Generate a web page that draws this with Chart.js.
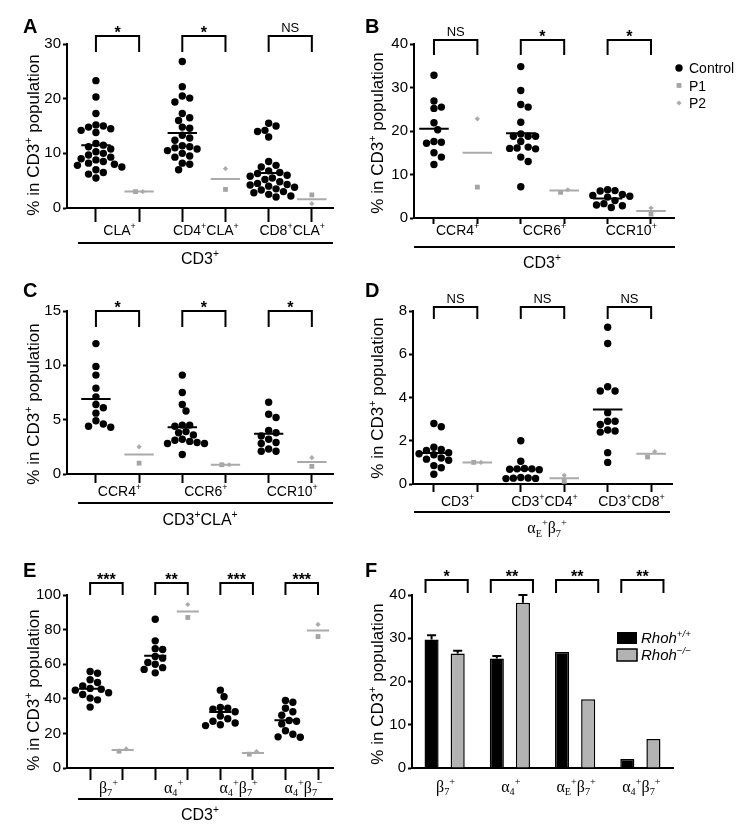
<!DOCTYPE html>
<html><head><meta charset="utf-8">
<script src="https://cdn.jsdelivr.net/npm/chart.js@4.4.1/dist/chart.umd.min.js"></script>
<style>
html,body{margin:0;padding:0;background:#fff;}
#wrap{position:relative;width:745px;height:830px;background:#fff;overflow:hidden;}
canvas{position:absolute;left:0;top:0;}
</style></head><body>
<div id="wrap">
<canvas id="cA" width="745" height="830"></canvas>
<canvas id="cB" width="745" height="830"></canvas>
<canvas id="cC" width="745" height="830"></canvas>
<canvas id="cD" width="745" height="830"></canvas>
<canvas id="cE" width="745" height="830"></canvas>
<canvas id="cF" width="745" height="830"></canvas>
</div>
<script>
// ---------------- DATA ----------------
const yTitle = '% in CD3^{+} population';
const seriesNames = ['Control', 'P1', 'P2'];

// Panel A
const A_categories = ['CLA^{+}', 'CD4^{+}CLA^{+}', 'CD8^{+}CLA^{+}'];
const A_group = 'CD3^{+}';
const A_yTicks = [0, 10, 20, 30];
const A_control_CLA = [23.3, 20.3, 17.3, 15.2, 15.0, 14.8, 14.5, 14.2, 13.8, 11.8, 11.5, 11.2, 10.8, 10.3, 10.0, 9.7, 9.3, 9.0, 8.8, 8.5, 8.2, 8.0, 7.8, 7.5, 7.0, 6.5, 6.2, 5.5];
const A_control_CD4CLA = [26.8, 22.2, 20.5, 20.1, 19.4, 17.3, 16.5, 16.0, 14.8, 14.6, 13.3, 12.8, 12.4, 11.4, 11.2, 11.0, 10.8, 10.5, 10.0, 9.5, 9.3, 8.2, 8.0, 7.0];
const A_control_CD8CLA = [15.5, 15.0, 14.2, 14.0, 13.0, 8.5, 7.8, 7.5, 6.8, 6.5, 6.3, 6.0, 5.8, 5.5, 5.2, 4.8, 4.5, 4.3, 4.2, 4.0, 3.8, 3.5, 3.3, 3.0, 2.8, 2.5, 2.2, 2.0];
const A_P1 = [3.0, 3.4, 2.4];
const A_P2 = [3.0, 7.2, 0.8];
const A_controlMean = [11.5, 13.7, 6.4];
const A_patientMean = [3.0, 5.3, 1.6];
const A_significance = ['*', '*', 'NS'];

// Panel B
const B_categories = ['CCR4^{+}', 'CCR6^{+}', 'CCR10^{+}'];
const B_group = 'CD3^{+}';
const B_yTicks = [0, 10, 20, 30, 40];
const B_control_CCR4 = [32.8, 26.9, 25.5, 25.2, 21.9, 20.3, 17.6, 17.4, 17.2, 15.0, 14.0, 12.3];
const B_control_CCR6 = [34.8, 29.3, 26.1, 25.5, 22.0, 19.3, 18.8, 18.8, 18.8, 17.6, 16.3, 16.1, 16.0, 15.9, 14.0, 13.0, 7.2];
const B_control_CCR10 = [6.5, 6.3, 6.2, 5.4, 5.2, 5.0, 4.8, 4.0, 3.3, 3.0, 2.8, 2.4];
const B_P1 = [7.1, 5.9, 0.9];
const B_P2 = [22.8, 6.5, 2.3];
const B_controlMean = [20.5, 19.5, 4.5];
const B_patientMean = [15.0, 6.3, 1.6];
const B_significance = ['NS', '*', '*'];

// Panel C
const C_categories = ['CCR4^{+}', 'CCR6^{+}', 'CCR10^{+}'];
const C_group = 'CD3^{+}CLA^{+}';
const C_yTicks = [0, 5, 10, 15];
const C_control_CCR4 = [12.0, 9.9, 9.1, 7.9, 7.1, 6.4, 6.1, 5.6, 4.9, 4.6, 4.4, 4.3];
const C_control_CCR6 = [9.1, 7.5, 6.4, 5.8, 4.5, 4.5, 4.4, 3.9, 3.8, 3.6, 3.2, 3.1, 3.0, 2.9, 2.8, 2.8, 1.8];
const C_control_CCR10 = [6.6, 5.5, 5.2, 4.0, 3.8, 3.5, 3.2, 2.9, 2.8, 2.3, 2.1, 2.1];
const C_P1 = [1.0, 0.85, 0.7];
const C_P2 = [2.5, 0.85, 1.5];
const C_controlMean = [6.9, 4.3, 3.7];
const C_patientMean = [1.8, 0.85, 1.1];
const C_significance = ['*', '*', '*'];

// Panel D
const D_categories = ['CD3^{+}', 'CD3^{+}CD4^{+}', 'CD3^{+}CD8^{+}'];
const D_group = 'α_{E}^{+}β_{7}^{+}';
const D_yTicks = [0, 2, 4, 6, 8];
const D_control_CD3 = [2.8, 2.65, 1.7, 1.6, 1.55, 1.45, 1.4, 1.35, 1.2, 1.15, 1.1, 0.85, 0.75, 0.45];
const D_control_CD4 = [2.0, 1.05, 0.72, 0.7, 0.7, 0.68, 0.66, 0.3, 0.28, 0.27, 0.26, 0.25];
const D_control_CD8 = [7.25, 6.5, 4.5, 4.3, 4.3, 3.3, 2.9, 2.9, 2.75, 2.5, 2.45, 2.4, 1.45, 1.0];
const D_P1 = [1.0, 0.12, 1.25];
const D_P2 = [1.0, 0.4, 1.5];
const D_controlMean = [1.43, 0.67, 3.45];
const D_patientMean = [1.0, 0.27, 1.4];
const D_significance = ['NS', 'NS', 'NS'];

// Panel E
const E_categories = ['β_{7}^{+}', 'α_{4}^{+}', 'α_{4}^{+}β_{7}^{+}', 'α_{4}^{+}β_{7}^{−}'];
const E_group = 'CD3^{+}';
const E_yTicks = [0, 20, 40, 60, 80, 100];
const E_control_b7 = [55.8, 54.8, 51, 49.4, 47.5, 46, 45.5, 45, 43.5, 42.5, 40.4, 39.4, 35.2];
const E_control_a4 = [86, 73.5, 69, 68.5, 64.5, 63.5, 61, 60, 58, 57, 55];
const E_control_a4b7pos = [45, 41.2, 35, 34.5, 34, 32.5, 30, 28.5, 27, 26, 25, 24.5];
const E_control_a4b7neg = [39, 38, 34.5, 32.5, 30.5, 27.5, 27, 25.5, 21.5, 19.5, 18, 17.8];
const E_P1 = [9.7, 87, 8, 76];
const E_P2 = [11, 94.5, 9.5, 83];
const E_controlMean = [45.8, 64.9, 32.3, 27.6];
const E_patientMean = [10.4, 90.5, 8.6, 79.5];
const E_significance = ['***', '**', '***', '***'];

// Panel F
const F_categories = ['β_{7}^{+}', 'α_{4}^{+}', 'α_{E}^{+}β_{7}^{+}', 'α_{4}^{+}β_{7}^{+}'];
const F_yTicks = [0, 10, 20, 30, 40];
const F_seriesNames = ['Rhoh^{+/+}', 'Rhoh^{−/−}'];
const F_wildtype = [29.7, 25.3, 26.8, 2.1];
const F_wildtypeErr = [1.0, 0.6, 0, 0];
const F_knockout = [26.5, 38.2, 15.9, 6.7];
const F_knockoutErr = [0.6, 1.8, 0, 0];
const F_significance = ['*', '**', '**', '**'];

// ---------------- RENDERING ----------------
const SANS = "'Liberation Sans', Arial, Helvetica, sans-serif";
const SERIF = "'Liberation Serif', 'Times New Roman', serif";
Chart.defaults.font.family = SANS;
Chart.defaults.color = '#000';
const GRAY_SQ = '#a4a4a4', GRAY_DI = '#ababab', GRAY_LINE = '#aaaaaa', GRAY_BAR = '#b3b3b3';
const YW = 40, XH = 20, HALF = 0.34, R = 3.7;

function richParts(s) {
  const parts = []; let i = 0, buf = '';
  while (i < s.length) {
    if ((s[i] === '^' || s[i] === '_') && s[i + 1] === '{') {
      if (buf) { parts.push({ t: buf, m: 'n' }); buf = ''; }
      const end = s.indexOf('}', i);
      parts.push({ t: s.slice(i + 2, end), m: s[i] === '^' ? 'sup' : 'sub' });
      i = end + 1;
    } else { buf += s[i]; i++; }
  }
  if (buf) parts.push({ t: buf, m: 'n' });
  return parts;
}
function drawRich(ctx, s, x, y, o) {
  o = Object.assign({ size: 14, align: 'center', weight: 'normal', style: 'normal', color: '#000', family: null }, o);
  const fam = o.family || (/[α-ω]/.test(s) ? SERIF : SANS);
  const parts = richParts(s);
  const fontFor = p => `${o.style} ${o.weight} ${p.m === 'n' ? o.size : o.size * 0.64}px ${fam}`;
  let total = 0;
  parts.forEach(p => { ctx.font = fontFor(p); p.w = ctx.measureText(p.t).width; total += p.w; });
  let cx = o.align === 'center' ? x - total / 2 : (o.align === 'right' ? x - total : x);
  ctx.save(); ctx.fillStyle = o.color; ctx.textBaseline = 'alphabetic'; ctx.textAlign = 'left';
  parts.forEach(p => {
    ctx.font = fontFor(p);
    const dy = p.m === 'sup' ? -o.size * 0.42 : (p.m === 'sub' ? o.size * 0.22 : 0);
    ctx.fillText(p.t, cx, y + dy); cx += p.w;
  });
  ctx.restore();
}
function drawMarker(ctx, style, x, y, r, color) {
  ctx.save(); ctx.fillStyle = color; ctx.beginPath();
  if (style === 'circle') ctx.arc(x, y, r, 0, Math.PI * 2);
  else if (style === 'rect') { const h = r * Math.SQRT1_2; ctx.rect(x - h, y - h, 2 * h, 2 * h); }
  else { ctx.moveTo(x, y - r); ctx.lineTo(x + r, y); ctx.lineTo(x, y + r); ctx.lineTo(x - r, y); ctx.closePath(); }
  ctx.fill(); ctx.restore();
}
function drawBracket(ctx, x1, x2, top, bottom, label) {
  ctx.save(); ctx.strokeStyle = '#000'; ctx.lineWidth = 2; ctx.lineJoin = 'miter';
  ctx.beginPath(); ctx.moveTo(x1, bottom); ctx.lineTo(x1, top); ctx.lineTo(x2, top); ctx.lineTo(x2, bottom); ctx.stroke();
  ctx.restore();
  const xm = (x1 + x2) / 2;
  if (label === 'NS') drawRich(ctx, 'NS', xm, top - 4.5, { size: 13 });
  else drawRich(ctx, label, xm, top + 2, { size: 16, weight: 'bold', family: SANS });
}
function commonDecor(ctx, L) {
  ctx.save(); ctx.fillStyle = '#000'; ctx.font = `bold 20px ${SANS}`; ctx.textBaseline = 'alphabetic'; ctx.textAlign = 'left';
  ctx.fillText(L.letter, L.letterX, L.letterY); ctx.restore();
  ctx.save(); ctx.translate(L.titleX, L.titleY); ctx.rotate(-Math.PI / 2);
  drawRich(ctx, yTitle, 0, 6, { size: 17, family: SANS }); ctx.restore();
}

function scatterPanel(id, L, groups, p1, p2, cMean, pMean, sig, cats, groupLabel, yTicks) {
  const nG = groups.length;
  const ticksX = []; for (let i = 1; i <= 2 * nG; i++) ticksX.push(i);
  const cMeanData = [], pMeanData = [];
  cMean.forEach((m, i) => { const c = 2 * i + 1; cMeanData.push({ x: c - HALF, y: m }, { x: c + HALF, y: m }, { x: c + 0.5, y: null }); });
  pMean.forEach((m, i) => { const c = 2 * i + 2; pMeanData.push({ x: c - HALF, y: m }, { x: c + HALF, y: m }, { x: c + 0.5, y: null }); });
  const ctrl = []; groups.forEach((g, i) => g.forEach(v => ctrl.push({ x: 2 * i + 1, y: v })));
  const p1d = p1.map((v, i) => ({ x: 2 * i + 2, y: v }));
  const p2d = p2.map((v, i) => ({ x: 2 * i + 2, y: v }));
  const decor = {
    id: 'decor' + id,
    afterDraw(chart) {
      const ctx = chart.ctx, xs = chart.scales.x, area = chart.chartArea;
      sig.forEach((s, i) => drawBracket(ctx, xs.getPixelForValue(2 * i + 1), xs.getPixelForValue(2 * i + 2), area.top + L.br[0], area.top + L.br[1], s));
      cats.forEach((c, i) => { const greek = /[α-ω]/.test(c); drawRich(ctx, c, xs.getPixelForValue(2 * i + 1.5) + 2, L.catY + (greek ? 5.5 : 5), { size: greek ? 16 : 14 }); });
      ctx.save(); ctx.strokeStyle = '#000'; ctx.lineWidth = 2; ctx.beginPath(); ctx.moveTo(L.ul[1], L.ul[0]); ctx.lineTo(L.ul[2], L.ul[0]); ctx.stroke(); ctx.restore();
      drawRich(ctx, groupLabel, L.grp[0], L.grp[1] + 6, { size: 16 });
      commonDecor(ctx, L);
      if (L.legend) {
        const mk = [['circle', R, '#000'], ['rect', 3.4, GRAY_SQ], ['rectRot', 2.6, GRAY_DI]];
        seriesNames.forEach((n, k) => {
          const y = L.legend[1] + k * 17.5;
          drawMarker(ctx, mk[k][0], L.legend[0], y, mk[k][1], mk[k][2]);
          drawRich(ctx, n, L.legend[0] + 10, y + 5, { size: 14, align: 'left' });
        });
      }
    }
  };
  const chart = new Chart(document.getElementById(id), {
    type: 'scatter',
    data: { datasets: [
      { data: cMeanData, showLine: true, borderColor: '#000', borderWidth: 2, pointRadius: 0, spanGaps: false },
      { data: pMeanData, showLine: true, borderColor: GRAY_LINE, borderWidth: 2, pointRadius: 0, spanGaps: false },
      { data: ctrl, pointStyle: 'circle', pointRadius: R, backgroundColor: '#000', borderWidth: 0 },
      { data: p1d, pointStyle: 'rect', pointRadius: 3.4, backgroundColor: GRAY_SQ, borderWidth: 0 },
      { data: p2d, pointStyle: 'rectRot', pointRadius: 2.6, backgroundColor: GRAY_DI, borderWidth: 0 }
    ] },
    options: {
      responsive: false, animation: false, events: [],
      layout: { padding: { left: L.area[0] - YW, right: 745 - L.area[1], top: L.area[2], bottom: 830 - L.area[3] - XH } },
      plugins: { legend: { display: false }, tooltip: { enabled: false } },
      scales: {
        x: { type: 'linear', min: L.xr[0], max: L.xr[1],
          afterBuildTicks: s => { s.ticks = ticksX.map(v => ({ value: v })); },
          afterFit: s => { s.height = XH; },
          grid: { display: true, drawOnChartArea: false, drawTicks: true, tickLength: L.tl, tickWidth: 2, tickColor: '#000' },
          border: { display: true, color: '#000', width: 2 }, ticks: { display: false } },
        y: { type: 'linear', min: yTicks[0], max: yTicks[yTicks.length - 1],
          afterBuildTicks: s => { s.ticks = yTicks.map(v => ({ value: v })); },
          afterFit: s => { s.width = YW; },
          ticks: { color: '#000', font: { size: 15 }, padding: 2 },
          grid: { display: true, drawOnChartArea: false, tickLength: 4, tickWidth: 2, tickColor: '#000' },
          border: { display: true, color: '#000', width: 2 } }
      }
    },
    plugins: [decor]
  });
  // beeswarm layout of the points (pixel space)
  const xs = chart.scales.x, ys = chart.scales.y;
  const ux = xs.getPixelForValue(1) - xs.getPixelForValue(0);
  const D = 7.3, STEP = 3.7;
  const newCtrl = [];
  groups.forEach((g, i) => {
    const vals = g.slice().sort((a, b) => b - a);
    const placed = [];
    vals.forEach(v => {
      const py = ys.getPixelForValue(v); let best = 0;
      for (let k = 0; k < 60; k++) {
        const off = k === 0 ? 0 : (k % 2 ? 1 : -1) * Math.ceil(k / 2) * STEP;
        if (placed.every(q => (q.px - off) ** 2 + (q.py - py) ** 2 >= D * D)) { best = off; break; }
      }
      placed.push({ px: best, py });
      newCtrl.push({ x: 2 * i + 1 + best / ux, y: v });
    });
  });
  const np1 = [], np2 = [];
  p1.forEach((v, i) => {
    const a = ys.getPixelForValue(v), b = ys.getPixelForValue(p2[i]);
    const off = Math.abs(a - b) < 6 ? 3.6 / ux : 0;
    np1.push({ x: 2 * i + 2 - off, y: v }); np2.push({ x: 2 * i + 2 + off, y: p2[i] });
  });
  chart.data.datasets[2].data = newCtrl;
  chart.data.datasets[3].data = np1;
  chart.data.datasets[4].data = np2;
  chart.update('none');
  return chart;
}

scatterPanel('cA', { area: [67, 333, 44, 208], xr: [0.33, 6.49], tl: 14, br: [-8, 8], catY: 230, ul: [243, 78, 333], grp: [200, 258], letter: 'A', letterX: 23, letterY: 33, titleX: 33, titleY: 135 },
  [A_control_CLA, A_control_CD4CLA, A_control_CD8CLA], A_P1, A_P2, A_controlMean, A_patientMean, A_significance, A_categories, A_group, A_yTicks);
scatterPanel('cB', { area: [414, 674, 44, 218], xr: [0.54, 6.53], tl: 6, br: [-4, 11], catY: 230, ul: [247, 414, 675], grp: [542, 262], letter: 'B', letterX: 365, letterY: 33, titleX: 377, titleY: 133, legend: [679, 68] },
  [B_control_CCR4, B_control_CCR6, B_control_CCR10], B_P1, B_P2, B_controlMean, B_patientMean, B_significance, B_categories, B_group, B_yTicks);
scatterPanel('cC', { area: [67, 333, 311, 474], xr: [0.33, 6.49], tl: 9, br: [0, 16], catY: 491, ul: [503, 78, 333], grp: [200, 519], letter: 'C', letterX: 23, letterY: 297, titleX: 33, titleY: 404 },
  [C_control_CCR4, C_control_CCR6, C_control_CCR10], C_P1, C_P2, C_controlMean, C_patientMean, C_significance, C_categories, C_group, C_yTicks);
scatterPanel('cD', { area: [413, 672, 311, 484], xr: [0.52, 6.48], tl: 8, br: [-4, 8], catY: 501, ul: [512, 414, 670], grp: [547, 527], letter: 'D', letterX: 365, letterY: 297, titleX: 377, titleY: 398 },
  [D_control_CD3, D_control_CD4, D_control_CD8], D_P1, D_P2, D_controlMean, D_patientMean, D_significance, D_categories, D_group, D_yTicks);
scatterPanel('cE', { area: [67, 333, 595, 768], xr: [0.29, 8.46], tl: 12, br: [-12, 0], catY: 787, ul: [799, 78, 333], grp: [200, 814], letter: 'E', letterX: 23, letterY: 577, titleX: 33, titleY: 690 },
  [E_control_b7, E_control_a4, E_control_a4b7pos, E_control_a4b7neg], E_P1, E_P2, E_controlMean, E_patientMean, E_significance, E_categories, E_group, E_yTicks);

// Panel F (bars)
(function () {
  const L = { area: [412, 673, 595, 768], br: [-15, -2], catY: 786, letter: 'F', letterX: 365, letterY: 577, titleX: 377, titleY: 684 };
  const errs = [F_wildtypeErr, F_knockoutErr];
  const decor = {
    id: 'decorF',
    afterDatasetsDraw(chart) {
      const ctx = chart.ctx, ys = chart.scales.y;
      [0, 1].forEach(di => {
        const meta = chart.getDatasetMeta(di), vals = chart.data.datasets[di].data;
        meta.data.forEach((el, i) => {
          if (!errs[di][i]) return;
          const yb = ys.getPixelForValue(vals[i]), yt = ys.getPixelForValue(vals[i] + errs[di][i]);
          ctx.save(); ctx.strokeStyle = '#000'; ctx.lineWidth = 2; ctx.beginPath();
          ctx.moveTo(el.x, yb); ctx.lineTo(el.x, yt); ctx.moveTo(el.x - 4.5, yt); ctx.lineTo(el.x + 4.5, yt); ctx.stroke(); ctx.restore();
        });
      });
    },
    afterDraw(chart) {
      const ctx = chart.ctx, xs = chart.scales.x, area = chart.chartArea;
      const m0 = chart.getDatasetMeta(0), m1 = chart.getDatasetMeta(1);
      F_significance.forEach((s, i) => {
        const a = m0.data[i], b = m1.data[i];
        drawBracket(ctx, a.x - a.width / 2 + 1, b.x + b.width / 2 + 3, area.top + L.br[0], area.top + L.br[1], s);
      });
      F_categories.forEach((c, i) => drawRich(ctx, c, xs.getPixelForValue(i) + 1, L.catY + 5.5, { size: 16 }));
      commonDecor(ctx, L);
      ctx.save();
      ctx.fillStyle = '#000'; ctx.fillRect(617, 632, 20, 12);
      ctx.fillStyle = GRAY_BAR; ctx.fillRect(617, 649, 20, 12);
      ctx.strokeStyle = '#000'; ctx.lineWidth = 1.5; ctx.strokeRect(617, 649, 20, 12);
      ctx.restore();
      F_seriesNames.forEach((n, k) => drawRich(ctx, n, 641, 643 + k * 17, { size: 15, align: 'left', style: 'italic', family: SANS }));
    }
  };
  new Chart(document.getElementById('cF'), {
    type: 'bar',
    data: { labels: F_categories, datasets: [
      { data: F_wildtype, backgroundColor: '#000', borderColor: '#000', borderWidth: 1.5 },
      { data: F_knockout, backgroundColor: GRAY_BAR, borderColor: '#000', borderWidth: 1.5 }
    ] },
    options: {
      responsive: false, animation: false, events: [],
      categoryPercentage: 0.8, barPercentage: 0.54,
      layout: { padding: { left: L.area[0] - YW, right: 745 - L.area[1], top: L.area[2], bottom: 830 - L.area[3] - XH } },
      plugins: { legend: { display: false }, tooltip: { enabled: false } },
      scales: {
        x: { afterFit: s => { s.height = XH; }, grid: { display: false }, ticks: { display: false },
          border: { display: true, color: '#000', width: 2 } },
        y: { type: 'linear', min: F_yTicks[0], max: F_yTicks[F_yTicks.length - 1],
          afterBuildTicks: s => { s.ticks = F_yTicks.map(v => ({ value: v })); },
          afterFit: s => { s.width = YW; },
          ticks: { color: '#000', font: { size: 15 }, padding: 2 },
          grid: { display: true, drawOnChartArea: false, tickLength: 4, tickWidth: 2, tickColor: '#000' },
          border: { display: true, color: '#000', width: 2 } }
      }
    },
    plugins: [decor]
  });
})();
</script>
</body></html>
